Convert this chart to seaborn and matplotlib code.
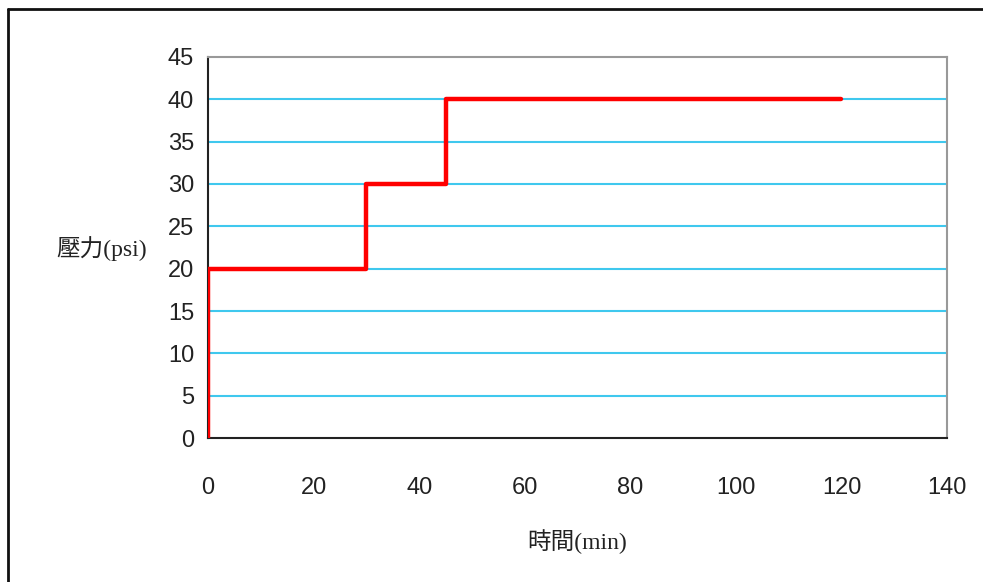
import matplotlib
matplotlib.use("Agg")
import matplotlib.pyplot as plt
import seaborn as sns
import pandas as pd
from matplotlib.lines import Line2D

# pressure profile (step shape, corner points)
time_min = [0, 0, 30, 30, 45, 45, 120]
pressure_psi = [0, 20, 20, 30, 30, 40, 40]
x_ticks = [0, 20, 40, 60, 80, 100, 120, 140]
y_ticks = [0, 5, 10, 15, 20, 25, 30, 35, 40, 45]

df = pd.DataFrame({"time": time_min, "pressure": pressure_psi})

sns.set_style("white")
plt.rcParams["font.family"] = ["Liberation Serif", "Noto Sans CJK TC", "DejaVu Sans"]

fig = plt.figure(figsize=(9.83, 5.82), dpi=100)
ax = fig.add_axes([0.2116, 0.2474, 0.9634 - 0.2116, 0.9021 - 0.2474])

# horizontal grid lines
for yv in y_ticks[1:-1]:
    ax.axhline(yv, color="#3fc8ee", lw=1.5, zorder=1)

sns.lineplot(data=df, x="time", y="pressure", sort=False, estimator=None,
             color="#ff0000", lw=3.2, ax=ax, zorder=3)

ax.set_xlim(0, 140)
ax.set_ylim(0, 45)
ax.set_xticks(x_ticks)
ax.set_yticks(y_ticks)
ax.tick_params(axis="both", direction="in", length=5, width=1.2, color="#222222",
               labelsize=17, labelcolor="#222222")
ax.tick_params(axis="x", pad=28)
ax.tick_params(axis="y", pad=10)
for lab in ax.get_xticklabels() + ax.get_yticklabels():
    lab.set_family(["Liberation Sans Narrow", "Liberation Sans", "DejaVu Sans"])

for side in ["left", "bottom"]:
    ax.spines[side].set_color("#222222")
    ax.spines[side].set_linewidth(1.5)
for side in ["right", "top"]:
    ax.spines[side].set_color("#999999")
    ax.spines[side].set_linewidth(1.5)

ax.set_xlabel("時間(min)", fontsize=17, color="#222222", labelpad=22)
ax.set_ylabel("壓力(psi)", fontsize=17, color="#222222", rotation=0,
              ha="right", va="center")
ax.yaxis.set_label_coords(-0.083, 0.497)

# outer frame (left and top edges visible)
fig.add_artist(Line2D([0.0085, 0.0085], [0, 0.984], color="#111111", lw=2,
                      transform=fig.transFigure))
fig.add_artist(Line2D([0.0085, 1.0], [0.984, 0.984], color="#111111", lw=2,
                      transform=fig.transFigure))

fig.savefig("out.png", dpi=100)
